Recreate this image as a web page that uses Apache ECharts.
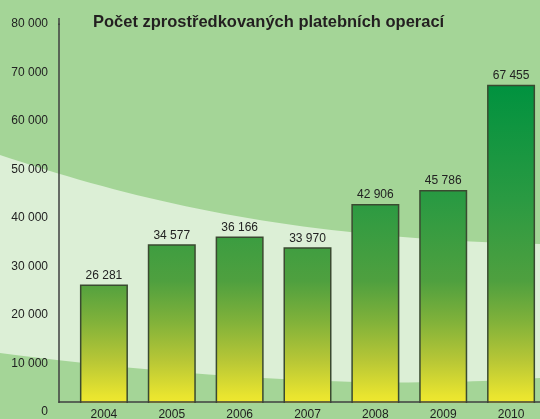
<!DOCTYPE html>
<html>
<head>
<meta charset="utf-8">
<script src="https://cdn.jsdelivr.net/npm/echarts@6/dist/echarts.min.js"></script>
<style>
html,body{margin:0;padding:0;background:#a4d597;}
#c{width:540px;height:419px;}
</style>
</head>
<body>
<div id="c"></div>
<script>
const chartTitle = 'Počet zprostředkovaných platebních operací';
const years = ['2004', '2005', '2006', '2007', '2008', '2009', '2010'];
const counts = [26281, 34577, 36166, 33970, 42906, 45786, 67455];
const yMin = 0, yMax = 80000, yStep = 10000;

const fmt = v => String(v).replace(/\B(?=(\d{3})+(?!\d))/g, ' ');
const FONT = '"Liberation Sans", Arial, sans-serif';

// decorative background band (cubic Bezier edges sampled into a polygon)
function bez(p0, p1, p2, p3, n) {
  const pts = [];
  for (let i = 0; i <= n; i++) {
    const t = i / n, u = 1 - t;
    pts.push([
      u*u*u*p0[0] + 3*u*u*t*p1[0] + 3*u*t*t*p2[0] + t*t*t*p3[0],
      u*u*u*p0[1] + 3*u*u*t*p1[1] + 3*u*t*t*p2[1] + t*t*t*p3[1]
    ]);
  }
  return pts;
}
const bandPts = bez([0,155],[150,205],[300,238],[540,244],40)
  .concat(bez([540,378],[420,386],[260,386],[0,353],40));

const chart = echarts.init(document.getElementById('c'), null, {renderer: 'canvas'});

const option = {
  backgroundColor: '#a4d597',
  animation: false,
  title: {
    text: chartTitle,
    left: 88, top: 9,
    textStyle: {fontFamily: FONT, fontSize: 16.5, fontWeight: 'bold', color: '#231f20'}
  },
  grid: {left: 70, right: -5, top: 24, bottom: 7, containLabel: false, outerBoundsMode: 'none'},
  xAxis: {
    type: 'category',
    data: years,
    offset: -10,
    z: 10,
    axisLine: {show: false},
    axisTick: {show: false},
    axisLabel: {fontFamily: FONT, fontSize: 12, color: '#222', margin: 7}
  },
  yAxis: {
    type: 'value',
    min: yMin, max: yMax, interval: yStep,
    offset: 11,
    z: 1,
    axisLine: {show: true, lineStyle: {color: '#3f3f3f', width: 1.5}},
    axisTick: {show: false},
    splitLine: {show: false},
    axisLabel: {fontFamily: FONT, fontSize: 12, color: '#222', margin: 11, formatter: fmt}
  },
  graphic: [
    {
      type: 'polygon', z: -5, silent: true,
      shape: {points: bandPts},
      style: {fill: '#dcefd6'}
    },
    {
      type: 'rect', z: 5, silent: true,
      shape: {x: 58, y: 403, width: 482, height: 16},
      style: {fill: '#a4d597'}
    },
    {
      type: 'line', z: 6, silent: true,
      shape: {x1: 58.5, y1: 402, x2: 540, y2: 402},
      style: {stroke: '#3f3f3f', lineWidth: 1.5}
    },
    {
      type: 'line', z: 6, silent: true,
      shape: {x1: 59, y1: 18, x2: 59, y2: 25},
      style: {stroke: '#3f3f3f', lineWidth: 1.5}
    }
  ],
  series: [{
    type: 'bar',
    data: counts,
    barWidth: 48,
    z: 2,
    itemStyle: {color: '#4ea03f', borderColor: '#3a4a30', borderWidth: 1.5},
    label: {
      show: true, position: 'top', distance: 3,
      fontFamily: FONT, fontSize: 12, color: '#222',
      formatter: p => fmt(p.value)
    }
  }]
};
chart.setOption(option);

// global gradient spanning the value axis from the highest bar to zero
const yTop = chart.convertToPixel({yAxisIndex: 0}, Math.max(...counts));
const yZero = chart.convertToPixel({yAxisIndex: 0}, 0);
chart.setOption({
  series: [{
    itemStyle: {
      color: new echarts.graphic.LinearGradient(0, yTop, 0, yZero, [
        {offset: 0, color: '#00923f'},
        {offset: 0.35, color: '#2a9a42'},
        {offset: 0.6, color: '#4fa03f'},
        {offset: 0.72, color: '#7fb13a'},
        {offset: 0.84, color: '#b6c636'},
        {offset: 0.95, color: '#e8e42f'},
        {offset: 1, color: '#f7ec2f'}
      ], true)
    }
  }]
});
</script>
</body>
</html>
